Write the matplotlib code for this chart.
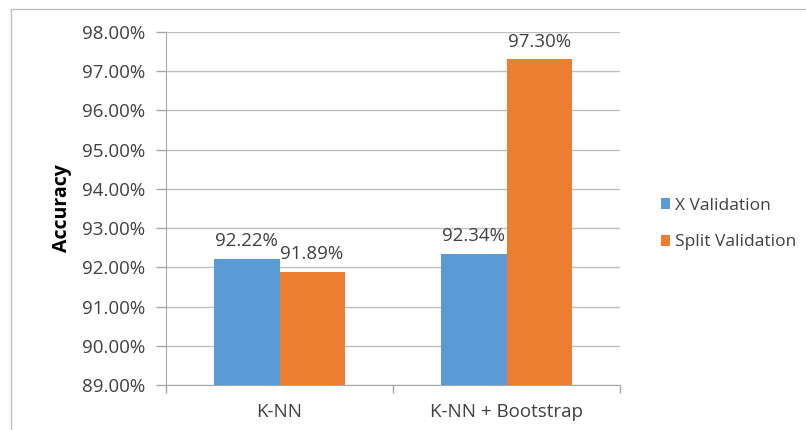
import numpy as np
import matplotlib
matplotlib.use("Agg")
import matplotlib.pyplot as plt
from matplotlib.lines import Line2D
from matplotlib.ticker import FuncFormatter

# ── data ─────────────────────────────────────────────────────────────────────
categories = ["K-NN", "K-NN + Bootstrap"]
series_names = ["X Validation", "Split Validation"]
x_validation = [92.22, 92.34]
split_validation = [91.89, 97.30]

C_BLUE = "#5B9BD5"
C_ORANGE = "#ED7D31"
C_TEXT = "#404040"
C_GRID = "#BFBFBF"

plt.rcParams["font.family"] = ["Open Sans", "DejaVu Sans"]

fig = plt.figure(figsize=(8.06, 4.30), dpi=100)
ax = fig.add_axes([166 / 806, 1 - 385 / 430, 454 / 806, 353 / 430])

x = np.arange(len(categories))
w = 0.287
ax.bar(x - w / 2, x_validation, width=w, color=C_BLUE, label=series_names[0], zorder=3)
ax.bar(x + w / 2, split_validation, width=w, color=C_ORANGE, label=series_names[1], zorder=3)

for xi, v in zip(x - w / 2, x_validation):
    ax.text(xi, v + 0.22, f"{v:.2f}%", ha="center", va="bottom", fontsize=13.5, color=C_TEXT)
for xi, v in zip(x + w / 2, split_validation):
    ax.text(xi, v + 0.22, f"{v:.2f}%", ha="center", va="bottom", fontsize=13.5, color=C_TEXT)

ax.set_ylim(89, 98)
ax.set_yticks(np.arange(89, 98.5, 1))
ax.yaxis.set_major_formatter(FuncFormatter(lambda v, p: f"{v:.2f}%"))
ax.set_xlim(-0.5, 1.5)
ax.set_xticks(x)
ax.set_xticklabels(categories)
ax.set_xticks([-0.5, 0.5, 1.5], minor=True)
ax.tick_params(axis="x", which="major", length=0, pad=13, labelsize=13.5, labelcolor=C_TEXT)
ax.tick_params(axis="x", which="minor", length=6, color="#A6A6A6", width=1)
ax.tick_params(axis="y", length=7, color="#A6A6A6", width=1, pad=8, labelsize=13.5, labelcolor=C_TEXT)

ax.yaxis.grid(True, color=C_GRID, linewidth=1, zorder=0)
ax.set_axisbelow(True)
for s in ["top", "right"]:
    ax.spines[s].set_visible(False)
ax.spines["left"].set_color("#A6A6A6")
ax.spines["bottom"].set_color("#A6A6A6")

ax.set_ylabel("Accuracy", fontsize=14, fontweight="bold", color="black", labelpad=7)

ax.legend(loc="center left", bbox_to_anchor=(645 / 806, 1 - 224 / 430), bbox_transform=fig.transFigure,
          frameon=False, fontsize=12.5, handlelength=0.55, handleheight=0.55,
          handletextpad=0.25, labelspacing=1.2, labelcolor=C_TEXT)

# outer chart border (top and left visible)
fig.add_artist(Line2D([11 / 806, 11 / 806], [0, 1 - 9 / 430], transform=fig.transFigure,
                      color="#BFBFBF", lw=1))
fig.add_artist(Line2D([11 / 806, 1], [1 - 9 / 430, 1 - 9 / 430], transform=fig.transFigure,
                      color="#BFBFBF", lw=1))

fig.savefig("out.png", dpi=100, facecolor="white")
